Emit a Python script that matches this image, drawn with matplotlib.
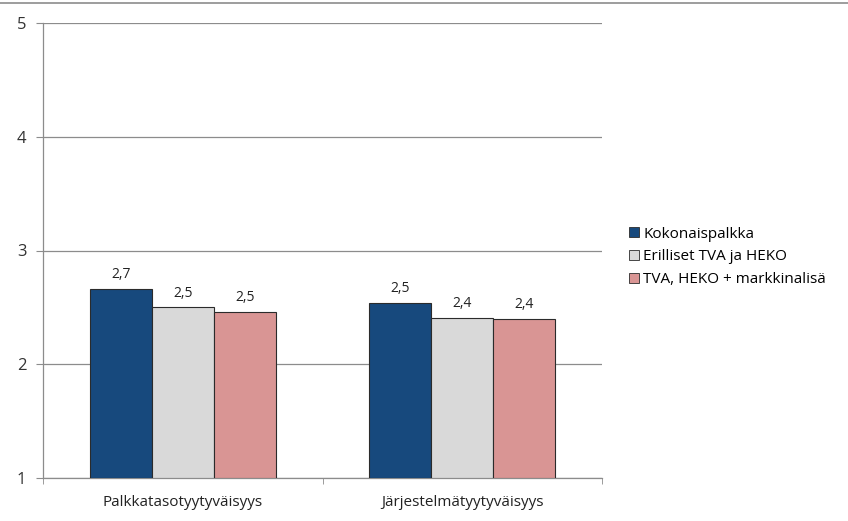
import matplotlib.pyplot as plt
from matplotlib.lines import Line2D
from matplotlib.patches import Patch
import numpy as np

categories = ["Palkkatasotyytyväisyys", "Järjestelmätyytyväisyys"]
series_names = ["Kokonaispalkka", "Erilliset TVA ja HEKO", "TVA, HEKO + markkinalisä"]
kokonaispalkka = [2.66, 2.54]
erilliset = [2.50, 2.41]
markkinalisa = [2.46, 2.40]
y_ticks = [1, 2, 3, 4, 5]

colors = ["#17497d", "#d9d9d9", "#d99594"]
series = [kokonaispalkka, erilliset, markkinalisa]

plt.rcParams["font.family"] = ["Open Sans", "DejaVu Sans"]

fig = plt.figure(figsize=(8.48, 5.21), dpi=100)
ax = fig.add_axes([43 / 848, 1 - 478 / 521, 559 / 848, 455 / 521])

x = np.arange(len(categories))
width = 0.222
for i, (vals, col) in enumerate(zip(series, colors)):
    pos = x + (i - 1) * width
    ax.bar(pos, [v - 1 for v in vals], width, bottom=1, color=col,
           edgecolor="#2b2b2b", linewidth=0.8, zorder=3)
    for xp, v in zip(pos, vals):
        ax.text(xp, v + 0.06, f"{v:.1f}".replace(".", ","), ha="center",
                va="bottom", fontsize=10, color="#222222")

ax.set_xlim(-0.5, 1.5)
ax.set_ylim(1, 5)
ax.set_yticks(y_ticks)
ax.set_yticklabels([str(t) for t in y_ticks], fontsize=12, color="#333333")
ax.yaxis.grid(True, color="#8c8c8c", linewidth=0.9, zorder=0)
ax.set_xticks(x)
ax.set_xticklabels(categories, fontsize=11, color="#222222")
ax.tick_params(axis="x", length=0, pad=12)
ax.tick_params(axis="y", length=5, color="#8c8c8c", pad=7)
# category separators under the axis
ax.set_xticks([-0.5, 0.5, 1.5], minor=True)
ax.tick_params(axis="x", which="minor", length=4, color="#8c8c8c")

for side in ["top", "right"]:
    ax.spines[side].set_visible(False)
for side in ["left", "bottom"]:
    ax.spines[side].set_color("#8c8c8c")
    ax.spines[side].set_linewidth(0.9)

handles = [Patch(facecolor=c, edgecolor="#2b2b2b", linewidth=0.6) for c in colors]
fig.legend(handles, series_names, loc="upper left",
           bbox_to_anchor=(615 / 848, 1 - 213 / 521), frameon=False,
           fontsize=11, handlelength=0.65, handleheight=0.65,
           handletextpad=0.3, labelspacing=0.5)

# frame line along the top edge
fig.add_artist(Line2D([0, 1], [1 - 3 / 521, 1 - 3 / 521], color="#8c8c8c",
                      linewidth=1.2, transform=fig.transFigure))

fig.savefig("out.png", dpi=100)
